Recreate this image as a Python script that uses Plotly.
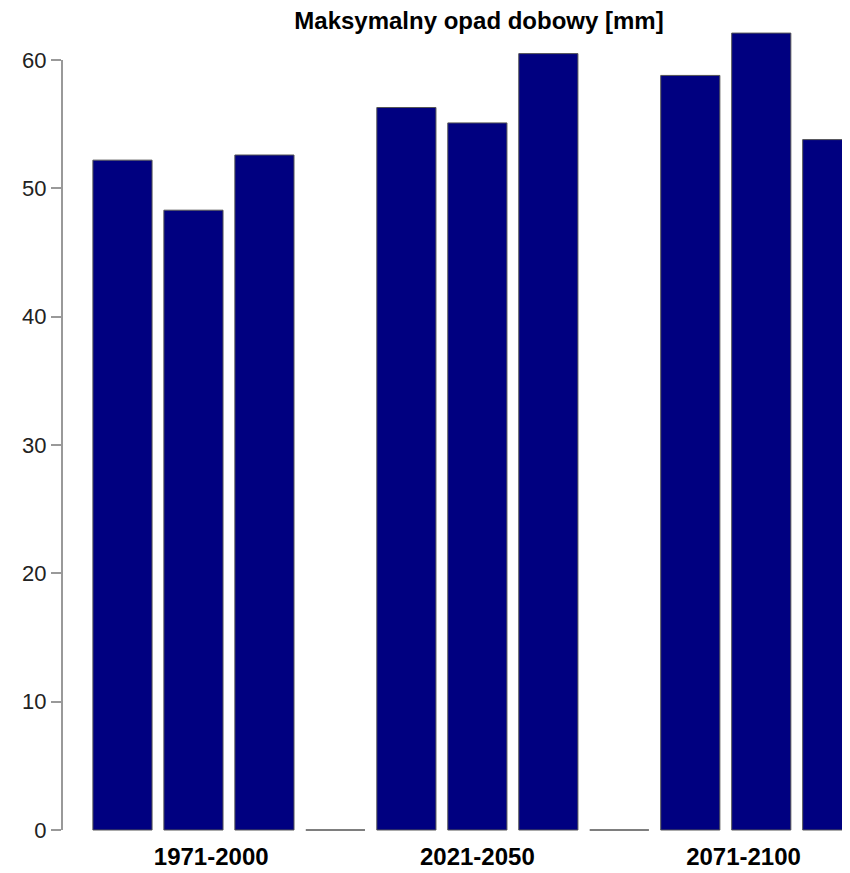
import plotly.graph_objects as go

# maksymalny opad dobowy [mm], trzy modele w kazdym okresie
periods = ["1971-2000", "2021-2050", "2071-2100"]
opad_1971_2000 = [52.2, 48.3, 52.6]
opad_2021_2050 = [56.3, 55.1, 60.5]
opad_2071_2100 = [58.8, 62.1, 53.8]
y_ticks = [0, 10, 20, 30, 40, 50, 60]

# R-style barplot: width 1, space 0.2, an empty bar between groups
groups = [opad_1971_2000, opad_2021_2050, opad_2071_2100]
values = []
for i, g in enumerate(groups):
    values += g
    if i < len(groups) - 1:
        values.append(0)
xs = [0.7 + 1.2 * i for i in range(len(values))]
label_pos = [2.2, 6.7, 11.2]

fig = go.Figure()
fig.add_trace(go.Bar(
    x=xs,
    y=values,
    width=1,
    marker=dict(color="#000080", line=dict(color="#555555", width=1)),
    hoverinfo="y",
))

# the page body adds 8px on the top and left, so the figure is 8px smaller
W, H = 842, 865
fig.update_layout(
    width=W,
    height=H,
    margin=dict(l=54, r=0, t=17, b=38),
    plot_bgcolor="white",
    paper_bgcolor="white",
    showlegend=False,
    font=dict(family="Liberation Sans, Arial, sans-serif", color="#222222"),
    title=dict(
        text="<b>Maksymalny opad dobowy [mm]</b>",
        x=471 / W,
        xanchor="center",
        y=1 - 13 / H,
        yanchor="middle",
        font=dict(size=24, color="#000000"),
    ),
    xaxis=dict(
        range=[-0.3225, 13.0],
        tickmode="array",
        tickvals=label_pos,
        ticktext=["<b>%s</b>" % p for p in periods],
        tickfont=dict(size=24, color="#000000"),
        ticklabelstandoff=5,
        showgrid=False,
        zeroline=False,
        showline=False,
        ticks="",
    ),
    yaxis=dict(
        range=[-0.39, 62.73],
        tickmode="array",
        tickvals=y_ticks,
        tickfont=dict(size=22, color="#222222"),
        ticks="outside",
        ticklen=10,
        tickcolor="#999999",
        tickwidth=1.5,
        ticklabelstandoff=0,
        showgrid=False,
        zeroline=False,
        showline=False,
    ),
    shapes=[dict(
        type="line", xref="paper", yref="y",
        x0=0, x1=0, y0=min(y_ticks), y1=max(y_ticks),
        line=dict(color="#999999", width=2),
    )],
)

fig.write_html("out.html")
